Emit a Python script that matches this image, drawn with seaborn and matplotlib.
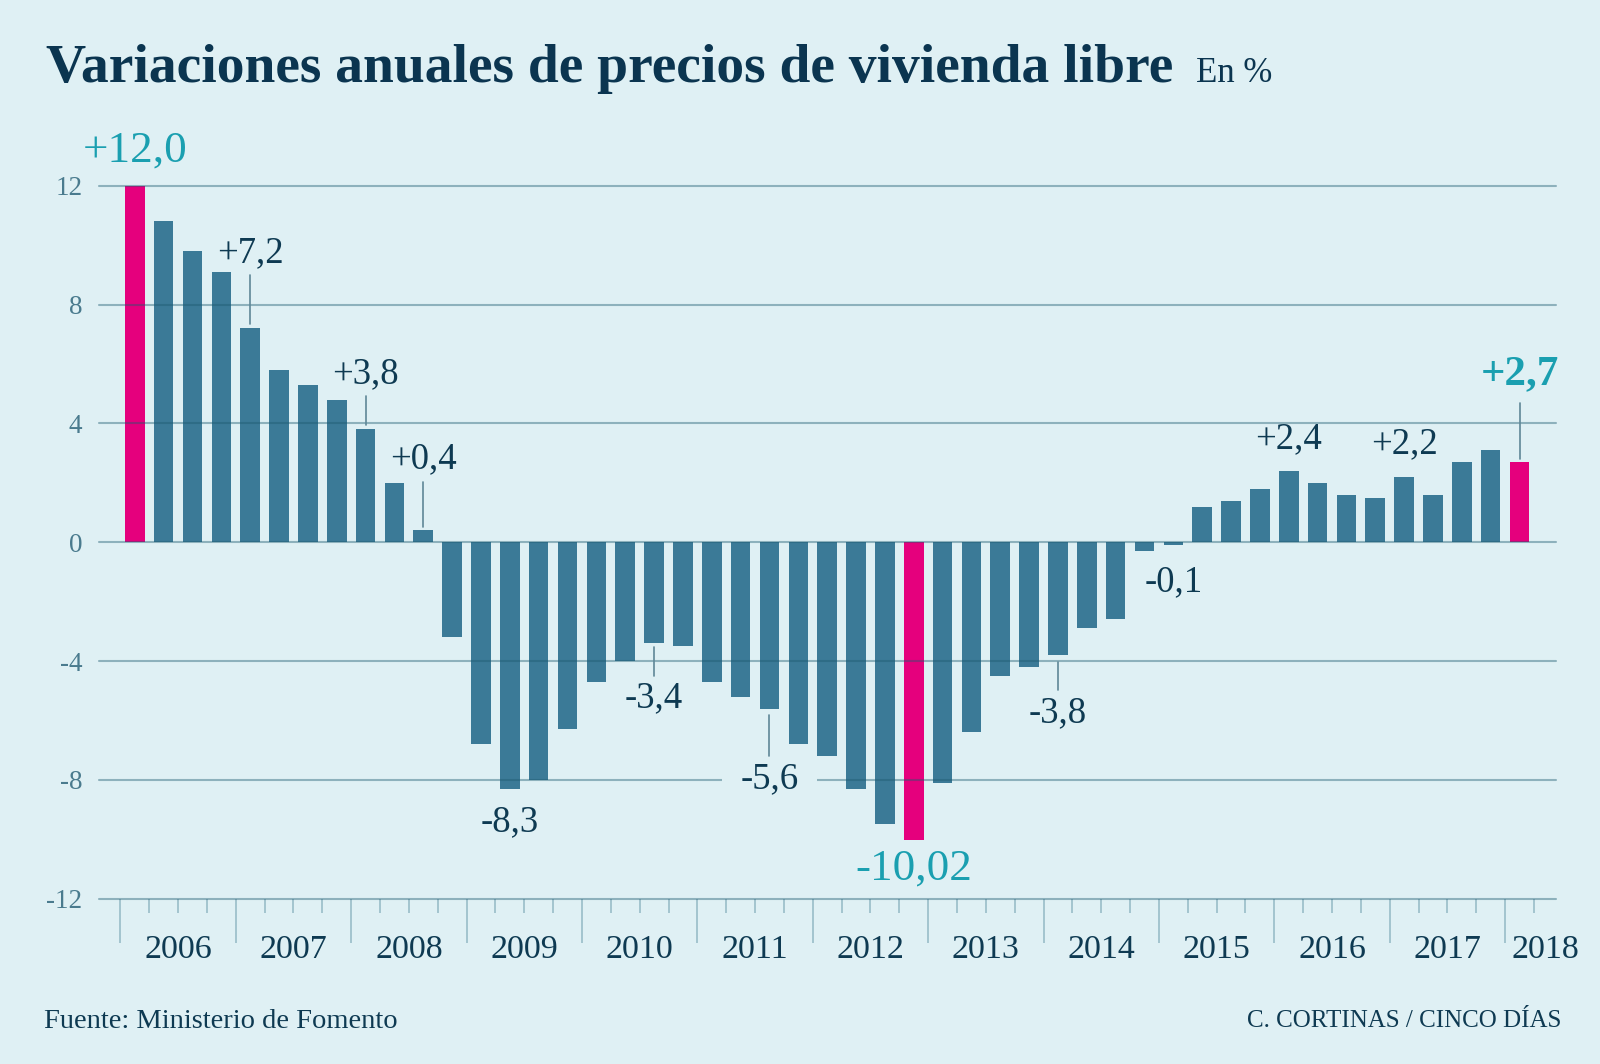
import matplotlib
matplotlib.use("Agg")
import matplotlib.pyplot as plt
import seaborn as sns
import pandas as pd
from matplotlib.transforms import blended_transform_factory

# ---------------- data ----------------
years = ["2006", "2007", "2008", "2009", "2010", "2011", "2012",
         "2013", "2014", "2015", "2016", "2017", "2018"]
quarters_per_year = ["T1", "T2", "T3", "T4"]
periods = [y + q for y in years[:-1] for q in quarters_per_year] + ["2018T1"]

values = [12.0, 10.8, 9.8, 9.1, 7.2, 5.8, 5.3, 4.8, 3.8, 2.0, 0.4, -3.2,
          -6.8, -8.3, -8.0, -6.3, -4.7, -4.0, -3.4, -3.5, -4.7, -5.2, -5.6, -6.8,
          -7.2, -8.3, -9.5, -10.02, -8.1, -6.4, -4.5, -4.2, -3.8, -2.9, -2.6, -0.3,
          -0.1, 1.2, 1.4, 1.8, 2.4, 2.0, 1.6, 1.5, 2.2, 1.6, 2.7, 3.1, 2.7]

highlight = ["2006T1", "2012T4", "2018T1"]

label_periods = ["2006T1", "2007T1", "2008T1", "2008T3", "2009T2", "2010T3", "2011T3",
                 "2012T4", "2014T1", "2015T1", "2016T1", "2017T1", "2018T1"]
label_texts = ["+12,0", "+7,2", "+3,8", "+0,4", "-8,3", "-3,4", "-5,6",
               "-10,02", "-3,8", "-0,1", "+2,4", "+2,2", "+2,7"]

yticks = [-12, -8, -4, 0, 4, 8, 12]

# ---------------- layout / style ----------------
BG = "#dff0f4"
BAR = "#3b7a97"
PINK = "#e5007d"
GRID = "#1d5a70"
TICKC = "#a3c4ce"
YLAB = "#4a7b8e"
DARK = "#0e3a52"
TEAL = "#1a9fb0"
LEADER = "#5f8797"
FONT = "Liberation Serif"

# label vertical positions (data units) and leader line spans
label_y = [13.17, 9.73, 5.67, 2.79, -9.42, -5.23, -7.98, -10.97, -5.74, -1.34, 3.47, 3.30, 5.67]
leaders = {"2007T1": (7.35, 9.0), "2008T1": (3.95, 4.92), "2008T3": (0.52, 2.03),
           "2010T3": (-3.51, -4.5), "2011T3": (-5.81, -7.19), "2014T1": (-4.02, -4.99),
           "2018T1": (2.79, 4.68)}

sns.set_theme(style="white")
plt.rcParams["font.family"] = [FONT, "DejaVu Serif"]

df = pd.DataFrame({"period": periods, "value": values})
df["grp"] = ["hi" if p in highlight else "lo" for p in periods]

fig = plt.figure(figsize=(16, 10.64), dpi=100, facecolor=BG)
ax = fig.add_axes([0.0619, 0.1553, 0.9107, 0.6702])
ax.set_facecolor(BG)

sns.barplot(data=df, x="period", y="value", hue="grp",
            palette={"hi": PINK, "lo": BAR}, order=periods,
            width=0.68, legend=False, ax=ax, saturation=1, zorder=2,
            edgecolor="none", linewidth=0)

ax.set_xlim(-1.24, 49.27)
ax.set_ylim(-12, 12)
for s in ax.spines.values():
    s.set_visible(False)

# horizontal grid lines drawn over the bars
for yv in yticks:
    ax.axhline(yv, color=GRID, alpha=0.42, lw=1.5, zorder=3, clip_on=False)

ax.set_yticks(yticks)
ax.set_yticklabels([str(v) for v in yticks], fontsize=19.5, color=YLAB)
ax.tick_params(axis="y", length=0, pad=12)

n = len(periods)
major = [i - 0.5 for i in range(0, n, 4)]
minor = [i + 0.5 for i in range(n) if (i + 1) % 4 != 0]
ax.set_xticks(major)
ax.set_xticklabels([""] * len(major))
ax.set_xticks(minor, minor=True)
ax.tick_params(axis="x", which="major", bottom=True, direction="out", length=32,
               width=1.4, color=TICKC)
ax.tick_params(axis="x", which="minor", bottom=True, direction="out", length=10,
               width=1.4, color=TICKC)
ax.set_xlabel("")
ax.set_ylabel("")

# year labels
trans = blended_transform_factory(ax.transData, ax.transAxes)
year_x = [4 * k + 1.5 for k in range(len(years) - 1)] + [48.9]
for yx, yl in zip(year_x, years):
    ax.text(yx, -0.0715, yl, transform=trans, ha="center", va="center",
            fontsize=24.5, color=DARK)

# value labels
for p, t, ly in zip(label_periods, label_texts, label_y):
    i = periods.index(p)
    if p in ("2006T1", "2012T4"):
        kw = dict(fontsize=32.5, color=TEAL)
    elif p == "2018T1":
        kw = dict(fontsize=31, color=TEAL, fontweight="bold")
    else:
        kw = dict(fontsize=26.5, color=DARK)
    bbox = None
    if p == "2011T3":
        bbox = dict(boxstyle="square,pad=0.5", facecolor=BG, edgecolor="none")
    ax.text(i, ly, t, ha="center", va="center", zorder=5, clip_on=False,
            bbox=bbox, **kw)
    if p in leaders:
        y0, y1 = leaders[p]
        ax.plot([i, i], [y0, y1], color=LEADER, lw=1.2, zorder=6, clip_on=False)

# title
title = fig.text(0.0287, 0.9233, "Variaciones anuales de precios de vivienda libre",
                 fontsize=34, fontweight="bold", color="#0b3550", ha="left", va="baseline")
r = fig.canvas.get_renderer()
w = title.get_window_extent(r).width
title.set_fontsize(34 * 1128.0 / w)
fig.text(0.7474, 0.9233, "En %", fontsize=25, color="#0b3550", ha="left", va="baseline")

fig.text(0.0274, 0.040, "Fuente: Ministerio de Fomento", fontsize=20.5, color=DARK,
         ha="left", va="center")
fig.text(0.9758, 0.040, "C. CORTINAS / CINCO DÍAS", fontsize=18, color=DARK,
         ha="right", va="center")

fig.savefig("out.png", dpi=100, facecolor=BG)
